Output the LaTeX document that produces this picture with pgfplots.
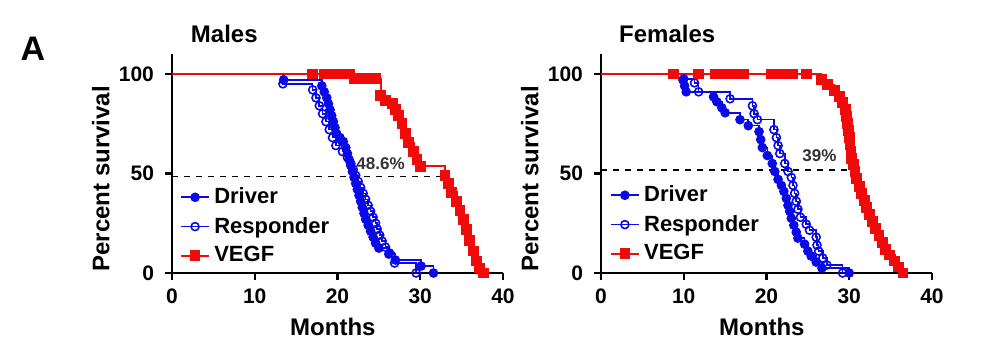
\documentclass[border=0pt]{standalone}
\usepackage{pgfplots}
\pgfplotsset{compat=1.18}
\usepackage{fontspec}
\setmainfont{Liberation Sans}
\definecolor{kmblue}{RGB}{10,10,230}
\definecolor{kmred}{RGB}{240,10,10}
\pgfplotsset{
  kmaxis/.style={
    scale only axis, width=165.5pt, height=109.5pt,
    xmin=0, xmax=40, ymin=0, ymax=110,
    axis lines=left, axis line style={-, line width=1.2pt, black},
    xtick={0,10,20,30,40}, ytick={0,50,100},
    tick align=outside, major tick length=3.5pt,
    tick style={line width=1.2pt, black},
    /pgf/number format/assume math mode=true,
    tick label style={font=\bfseries\fontsize{10.5}{12}\selectfont},
    yticklabel style={xshift=-2pt},
    xticklabel style={yshift=-1pt},
    label style={font=\bfseries\fontsize{12}{14}\selectfont},
    xlabel={Months}, ylabel={Percent survival},
    xlabel style={at={(axis description cs:0.486,-0.245)}, anchor=center},
    ylabel style={at={(axis description cs:-0.215,0.43)}, anchor=center},
    title style={font=\bfseries\fontsize{12}{14}\selectfont, anchor=center},
    legend cell align=left,
    legend style={draw=none, fill=none, font=\bfseries\fontsize{11}{13}\selectfont,
      inner sep=0pt, row sep=1.2pt, anchor=north west},
    legend image code/.code={\draw[#1, mark indices={2}] plot coordinates {(0cm,0cm) (0.25cm,0cm) (0.5cm,0cm)};},
    clip=false,
  },
  drv/.style={const plot, color=kmblue, line width=0.8pt, mark=*, mark size=2pt, mark options={solid, fill=kmblue}, mark indices={2,...,60}},
  rsp/.style={const plot, color=kmblue, line width=0.8pt, mark=o, mark size=2pt, mark options={solid}, mark indices={2,...,60}},
  vegf/.style={const plot, color=kmred, line width=1pt, mark=square*, mark size=2.2pt, mark options={solid, fill=kmred}, mark indices={2,...,60}},
}
\begin{document}
\begin{tikzpicture}
\useasboundingbox (0,0) rectangle (491pt,179.5pt);
\node[font=\bfseries\fontsize{17}{19}\selectfont] at (16.5pt,155pt) {A};
% ---------------- Males ----------------
\begin{axis}[kmaxis, at={(86pt,43pt)}, anchor=south west,
  title={Males}, title style={at={(axis description cs:0.158,1.035)}},
  legend style={at={(axis cs:0.9,45)}}]
\addplot[drv] coordinates {
(0,100) (13.5,97) (18.1,94) (18.4,91) (18.7,88) (18.9,85) (19.1,82) (19.3,79) (19.5,76) (19.7,73) (19.9,70) (20.3,68) (20.7,66) (21.0,63) (21.2,60) (21.4,57) (21.6,54) (21.8,51) (22.0,48) (22.2,45) (22.4,42) (22.6,39) (22.8,36) (23.0,33) (23.2,30) (23.4,27) (23.7,24) (24.0,21) (24.3,18) (24.6,15) (25.0,12.5) (26.2,9.5) (27.0,6.5) (30.1,3.5) (31.6,0)};
\addlegendentry{Driver}
\addplot[rsp] coordinates {
(0,100) (13.4,95) (17.0,92) (17.4,88) (17.8,84) (18.2,80) (18.6,76) (19.0,72) (19.4,68) (19.8,64) (20.6,61) (21.2,58) (21.6,55) (21.9,52) (22.2,49) (22.5,46) (22.8,43) (23.1,40) (23.4,37) (23.7,34) (24.0,31) (24.3,28) (24.6,25) (24.8,22) (25.1,19) (25.4,16) (25.8,13) (26.3,10) (26.9,5) (29.5,0)};
\addlegendentry{Responder}
\addplot[vegf] coordinates {
(0,100) (17.0,100) (18.4,100) (19.6,100) (20.0,100) (20.5,100) (21.0,100) (21.5,100) (22.1,97.5) (22.5,97.5) (23.5,97.5) (24.0,97.5) (24.6,97.5) (25.2,89) (25.8,86.5) (26.6,85) (27.0,82) (27.4,79) (27.8,75) (28.2,70) (28.6,65.5) (29.2,61) (29.6,57) (30.0,53.5) (33.0,49) (33.4,45) (33.8,40.5) (34.4,36) (34.8,31.5) (35.2,27) (35.6,22) (36.0,16.5) (36.4,11) (36.8,6) (37.2,2.5) (37.6,0)};
\addlegendentry{VEGF}
\addplot[black, dashed, line width=0.7pt, forget plot] coordinates {(0,48.6) (32.9,48.6)};
\node[font=\bfseries\fontsize{8.5}{10}\selectfont, text=black!80, anchor=south] at (axis cs:25.2,48.2) {48.6\%};
\end{axis}
% ---------------- Females ----------------
\begin{axis}[kmaxis, at={(300.5pt,43pt)}, anchor=south west,
  title={Females}, title style={at={(axis description cs:0.2,1.035)}},
  legend style={at={(axis cs:1.0,46)}}]
\addplot[drv] coordinates {
(0,100) (9.9,97) (10.1,94) (10.3,91) (13.6,88.5) (14.0,86) (14.6,83) (15.0,80.5) (16.8,77) (17.8,74) (19.1,71) (19.3,67) (19.5,63) (20.1,59) (20.7,55) (21.0,51) (21.4,47) (21.8,44) (22.1,41) (22.4,37.5) (22.6,34) (22.8,31) (23.0,27.5) (23.3,24) (23.6,20.5) (23.8,17.5) (24.6,14.5) (25.0,11) (25.4,8.5) (26.0,5.5) (26.7,2.5) (30.0,0)};
\addlegendentry{Driver}
\addplot[rsp] coordinates {
(0,100) (10.0,97.5) (11.3,95.5) (11.8,91) (15.6,87.5) (18.3,84) (18.5,80) (18.9,77) (20.9,72) (21.2,68) (21.4,64) (21.6,60) (22.2,55) (22.6,51) (23.0,48) (23.2,44) (23.4,40) (23.6,36) (23.8,32) (24.1,28) (24.8,24.5) (25.2,21.5) (26.0,18) (26.1,14) (26.3,11) (26.8,7.5) (27.3,4) (29.2,0)};
\addlegendentry{Responder}
\addplot[vegf] coordinates {
(0,100) (8.8,100) (11.8,100) (13.8,100) (14.5,100) (15.2,100) (15.8,100) (16.4,100) (17.2,100) (20.6,100) (21.3,100) (22.0,100) (22.6,100) (23.2,100) (24.8,100) (26.6,97) (27.4,94.5) (28.2,91.5) (28.8,88.5) (29.2,85.5) (29.5,82) (29.7,78.5) (29.8,75) (29.9,71.5) (30.0,68) (30.1,64.5) (30.2,61) (30.3,57.5) (30.5,54.5) (30.7,51) (30.9,47.5) (31.2,43.5) (31.5,40) (31.8,36.5) (32.1,33) (32.4,29.5) (32.8,26) (33.2,22.5) (33.6,19) (34.0,15.5) (34.4,12) (34.9,9) (35.5,6) (36.0,3) (36.5,0)};
\addlegendentry{VEGF}
\addplot[black, dashed, line width=0.7pt, forget plot] coordinates {(0,51.8) (30.8,51.8)};
\node[font=\bfseries\fontsize{8.5}{10}\selectfont, text=black!80, anchor=south] at (axis cs:26.4,52.5) {39\%};
\end{axis}
\end{tikzpicture}
\end{document}
